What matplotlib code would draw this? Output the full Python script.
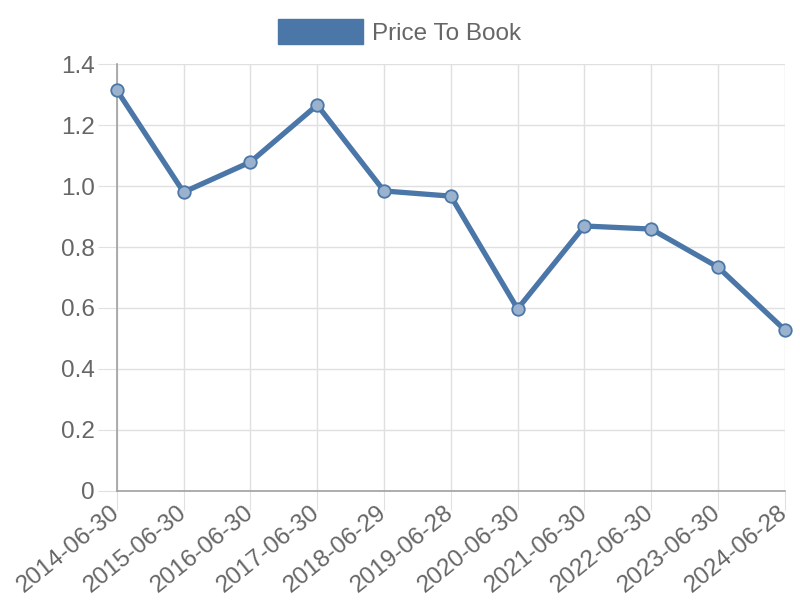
import numpy as np
import matplotlib.pyplot as plt
from matplotlib.patches import Patch

plt.rcParams['font.family'] = ['Liberation Sans', 'DejaVu Sans']

dates = ['2014-06-30', '2015-06-30', '2016-06-30', '2017-06-30', '2018-06-29',
         '2019-06-28', '2020-06-30', '2021-06-30', '2022-06-30', '2023-06-30',
         '2024-06-28']
price_to_book = [1.315, 0.980, 1.079, 1.266, 0.984, 0.967, 0.597, 0.869, 0.859, 0.734, 0.528]

line_col = '#4a76a8'
grey = '#666666'

fig = plt.figure(figsize=(8, 6), dpi=100)
ax = fig.add_axes([0.146, 0.182, 0.835, 0.711])

x = np.arange(len(dates))
ax.plot(x, price_to_book, color=line_col, lw=3.8, marker='o', ms=9,
        mfc='#9bb2cf', mec=line_col, mew=1.3, label='Price To Book', zorder=3,
        clip_on=False)

ax.set_xlim(0, len(dates) - 1)
ax.set_ylim(0, 1.4)
ax.set_yticks(np.arange(0, 1.41, 0.2))
ax.set_yticklabels(['0', '0.2', '0.4', '0.6', '0.8', '1.0', '1.2', '1.4'])
ax.set_xticks(x)
ax.set_xticklabels(dates, rotation=39, ha='right', va='center', rotation_mode='anchor')

ax.grid(True, color='#e0e0e0', lw=1)
ax.set_axisbelow(True)
ax.tick_params(axis='both', length=14, color='#e0e0e0', labelsize=17.5, labelcolor=grey, pad=2)
ax.tick_params(axis='x', pad=0)
for s in ['top', 'right']:
    ax.spines[s].set_visible(False)
for s in ['left', 'bottom']:
    ax.spines[s].set_color('#a0a0a0')
    ax.spines[s].set_linewidth(1.2)

handle = Patch(facecolor=line_col, edgecolor=line_col)
fig.legend([handle], ['Price To Book'], loc='upper center', bbox_to_anchor=(0.5, 1.005),
           frameon=False, fontsize=17.5, labelcolor=grey, handlelength=3.5, handleheight=1.2,
           handletextpad=0.37)

fig.savefig('out.png', dpi=100)
